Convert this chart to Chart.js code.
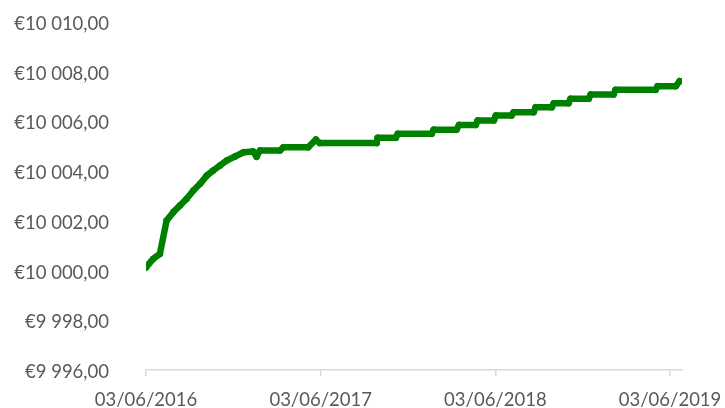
<!DOCTYPE html>
<html>
<head>
<meta charset="utf-8">
<script src="https://cdn.jsdelivr.net/npm/chart.js@4"></script>
<style>
  html, body { margin: 0; padding: 0; background: #fff; }
  #wrap { width: 725px; height: 408px; }
</style>
</head>
<body>
<div id="wrap"><canvas id="balanceChart"></canvas></div>
<script>
// Days since 03/06/2016 and account balance (EUR)
const dayOffsets = [
  0, 15, 29, 43, 57, 71, 85, 99, 113, 127, 140, 155, 169, 186, 204, 224, 231,
  238, 280, 287, 339, 355, 363, 482, 484, 522, 526, 597, 601, 649, 654, 689,
  693, 727, 731, 764, 768, 810, 814, 848, 852, 883, 887, 925, 929, 977, 981,
  1065, 1069, 1107, 1115
];
const balance = [
  10000.13, 10000.47, 10000.67, 10002.01, 10002.35, 10002.62, 10002.89, 10003.22,
  10003.49, 10003.82, 10004.02, 10004.23, 10004.43, 10004.59, 10004.76, 10004.79,
  10004.58, 10004.83, 10004.83, 10004.96, 10004.96, 10005.27, 10005.13, 10005.13,
  10005.34, 10005.34, 10005.50, 10005.50, 10005.67, 10005.67, 10005.86, 10005.86,
  10006.04, 10006.04, 10006.24, 10006.24, 10006.37, 10006.37, 10006.57, 10006.57,
  10006.73, 10006.73, 10006.91, 10006.91, 10007.08, 10007.08, 10007.27, 10007.27,
  10007.42, 10007.42, 10007.62
];
const xTickDays = [0, 365, 730, 1095];
const xTickLabels = ['03/06/2016', '03/06/2017', '03/06/2018', '03/06/2019'];

const labelFont = { family: 'Lato, "Open Sans", sans-serif', size: 18.5 };
const labelColor = '#595959';

function euro(v) {
  const parts = v.toFixed(2).split('.');
  const intPart = parts[0].replace(/\B(?=(\d{3})+(?!\d))/g, ' ');
  return '€' + intPart + ',' + parts[1];
}

const ctx = document.getElementById('balanceChart').getContext('2d');
const balanceChart = new Chart(ctx, {
  type: 'line',
  data: {
    datasets: [{
      label: 'Balance',
      data: dayOffsets.map((d, i) => ({ x: d, y: balance[i] })),
      borderColor: '#008000',
      backgroundColor: '#008000',
      borderWidth: 6.5,
      borderJoinStyle: 'round',
      borderCapStyle: 'round',
      pointRadius: 3,
      pointBorderWidth: 1,
      pointBackgroundColor: '#008000',
      pointBorderColor: '#008000',
      tension: 0
    }]
  },
  options: {
    responsive: true,
    maintainAspectRatio: false,
    animation: false,
    layout: { padding: { left: 0, right: 43, top: 22, bottom: 0 } },
    plugins: {
      legend: { display: false },
      tooltip: { enabled: false }
    },
    scales: {
      x: {
        type: 'linear',
        min: 0,
        max: 1120,
        afterBuildTicks: s => { s.ticks = xTickDays.map(v => ({ value: v })); },
        afterFit: s => { s.height = 38; s.paddingLeft = 0; s.paddingRight = 0; },
        border: { display: true, color: '#d9d9d9', width: 1.5 },
        grid: { drawOnChartArea: false, color: '#d9d9d9', tickLength: 6, lineWidth: 1.5 },
        ticks: {
          color: labelColor,
          font: labelFont,
          padding: 13,
          maxRotation: 0,
          autoSkip: false,
          callback: v => xTickLabels[xTickDays.indexOf(v)]
        }
      },
      y: {
        min: 9996,
        max: 10010,
        afterFit: s => { s.width = 146; s.paddingTop = 0; s.paddingBottom = 0; },
        border: { display: false },
        grid: { display: false },
        ticks: {
          stepSize: 2,
          color: labelColor,
          font: labelFont,
          padding: 29,
          labelOffset: 2,
          callback: v => euro(v)
        }
      }
    }
  }
});
</script>
</body>
</html>
